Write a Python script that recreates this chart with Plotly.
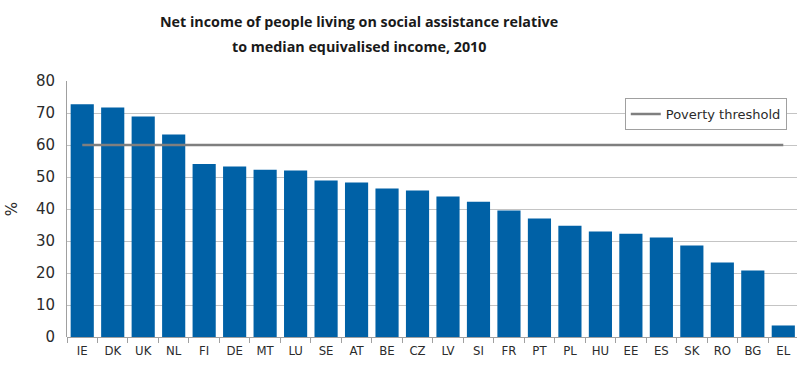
import plotly.graph_objects as go

# Net income on social assistance as % of median equivalised income, 2010
countries = ["IE", "DK", "UK", "NL", "FI", "DE", "MT", "LU", "SE", "AT", "BE", "CZ",
             "LV", "SI", "FR", "PT", "PL", "HU", "EE", "ES", "SK", "RO", "BG", "EL"]
net_income_pct = [72.7, 71.7, 68.9, 63.3, 54.1, 53.3, 52.3, 52.0, 48.9, 48.3, 46.4, 45.8,
                  43.9, 42.3, 39.5, 37.0, 34.8, 33.0, 32.3, 31.1, 28.6, 23.3, 20.8, 3.6]
poverty_threshold = [60] * len(countries)

title_lines = ["Net income of people living on social assistance relative",
               "to median equivalised income, 2010"]

BAR_COLOR = "#0061a6"
LINE_COLOR = "#7f7f7f"
GRID_COLOR = "#c4c4c4"
TEXT_COLOR = "#2b2b2b"
CONDENSED = "DejaVu Sans Condensed, Liberation Sans Narrow, Roboto Condensed, Roboto"

fig = go.Figure()
fig.add_trace(go.Bar(
    x=countries, y=net_income_pct, marker_color=BAR_COLOR,
    marker_line_width=0, showlegend=False, name="Net income",
))
fig.add_trace(go.Scatter(
    x=countries, y=poverty_threshold, mode="lines",
    line=dict(color=LINE_COLOR, width=2.5), name="Poverty threshold",
))

for txt, ypx in zip(title_lines, [22, 47]):
    fig.add_annotation(
        text=f"<b>{txt}</b>", xref="paper", yref="paper",
        x=(359 - 67) / 730, y=1 + (81 - ypx) / 255.5,
        xanchor="center", yanchor="middle", showarrow=False,
        font=dict(family="Open Sans", size=14.3, color="#1a1a1a"),
    )

fig.update_layout(
    width=797, height=365,
    margin=dict(l=67, r=0, t=81, b=28),
    paper_bgcolor="white", plot_bgcolor="white",
    bargap=0.24,
    font=dict(family="DejaVu Sans", color=TEXT_COLOR),
    legend=dict(
        x=0.986, y=0.933, xanchor="right", yanchor="top",
        bgcolor="white", bordercolor="#a0a0a0", borderwidth=1,
        font=dict(family="DejaVu Sans", size=13, color=TEXT_COLOR),
    ),
    xaxis=dict(
        range=[-0.5, 23.45], tickson="boundaries", ticks="outside", ticklen=5,
        tickcolor="#a0a0a0", showline=False, showgrid=False,
        ticklabelstandoff=4,
        tickfont=dict(family=CONDENSED, size=13, color=TEXT_COLOR),
    ),
    yaxis=dict(
        range=[0, 80], dtick=10, showgrid=True, gridcolor=GRID_COLOR, gridwidth=1,
        showline=True, linecolor="#a0a0a0", linewidth=1, ticks="",
        zeroline=True, zerolinecolor="#a0a0a0", zerolinewidth=1,
        ticklabelstandoff=8,
        tickfont=dict(family="DejaVu Sans", size=15, color=TEXT_COLOR),
        title=dict(text="%", font=dict(family="DejaVu Sans", size=15, color=TEXT_COLOR),
                   standoff=14),
    ),
)

fig.write_html("out.html")
